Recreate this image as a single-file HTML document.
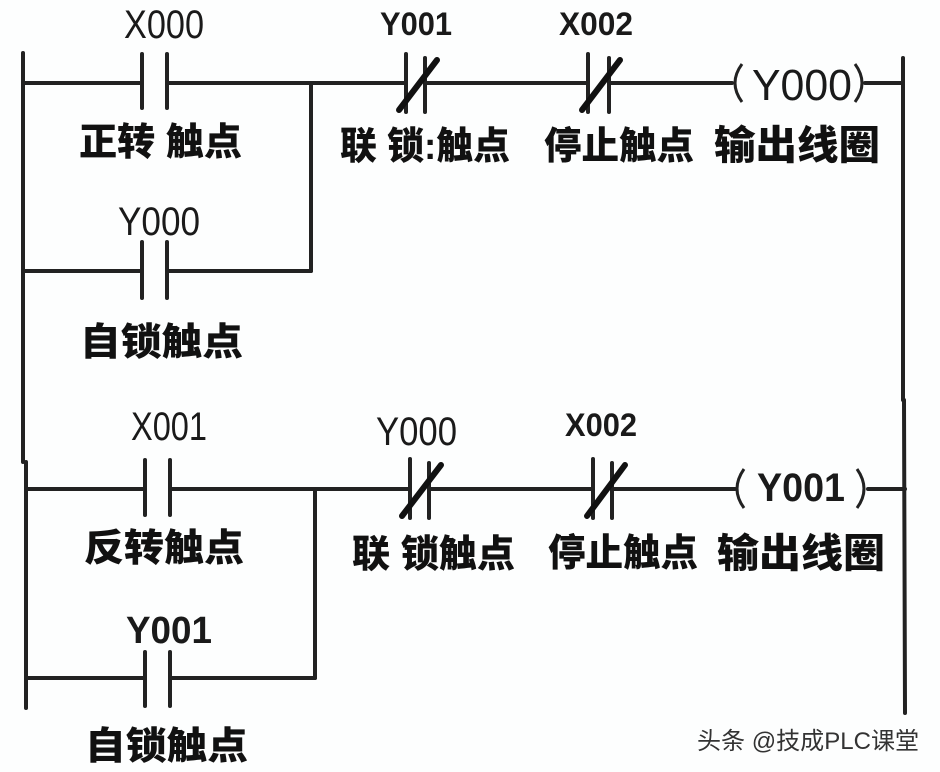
<!DOCTYPE html>
<html><head><meta charset="utf-8"><style>
html,body{margin:0;padding:0;background:#fdfefe;}
svg{display:block}
.lat{font-family:"Liberation Sans",sans-serif;fill:#1a1a1a}
.cjk{font-family:"Liberation Sans","Noto Sans CJK SC",sans-serif;font-weight:900;fill:#111}
</style></head><body>
<svg width="940" height="772" viewBox="0 0 940 772" xmlns="http://www.w3.org/2000/svg">
<g stroke="#222" stroke-width="4" fill="none" stroke-linecap="round">
<line x1="23" y1="53" x2="23" y2="462"/>
<line x1="26" y1="462" x2="26" y2="708"/>
<line x1="903" y1="58" x2="903" y2="400"/>
<line x1="904" y1="400" x2="905" y2="713"/>
<line x1="23" y1="83" x2="142" y2="83"/>
<line x1="142" y1="54" x2="142" y2="108"/>
<line x1="167" y1="54" x2="167" y2="108"/>
<line x1="167" y1="83" x2="406" y2="83"/>
<line x1="311" y1="83" x2="311" y2="271"/>
<line x1="23" y1="271" x2="142" y2="271"/>
<line x1="142" y1="242" x2="142" y2="298"/>
<line x1="167" y1="242" x2="167" y2="298"/>
<line x1="167" y1="271" x2="311" y2="271"/>
<line x1="406" y1="54" x2="406" y2="112"/>
<line x1="425" y1="58" x2="425" y2="112"/>
<line x1="425" y1="83" x2="588" y2="83"/>
<line x1="588" y1="54" x2="588" y2="112"/>
<line x1="609" y1="58" x2="609" y2="112"/>
<line x1="609" y1="83" x2="732" y2="83"/>
<line x1="865" y1="83" x2="903" y2="83"/>
<line x1="26" y1="489" x2="145" y2="489"/>
<line x1="145" y1="460" x2="145" y2="515"/>
<line x1="170" y1="460" x2="170" y2="515"/>
<line x1="170" y1="489" x2="410" y2="489"/>
<line x1="315" y1="489" x2="315" y2="678"/>
<line x1="26" y1="678" x2="145" y2="678"/>
<line x1="145" y1="652" x2="145" y2="706"/>
<line x1="170" y1="652" x2="170" y2="706"/>
<line x1="170" y1="678" x2="315" y2="678"/>
<line x1="410" y1="459" x2="410" y2="518"/>
<line x1="429" y1="463" x2="429" y2="518"/>
<line x1="429" y1="489" x2="593" y2="489"/>
<line x1="593" y1="459" x2="593" y2="518"/>
<line x1="612" y1="463" x2="612" y2="518"/>
<line x1="612" y1="489" x2="735" y2="489"/>
<line x1="868" y1="489" x2="905" y2="489"/>
</g>
<g stroke="#111" stroke-width="6" stroke-linecap="round">
<line x1="399" y1="110" x2="437" y2="60"/>
<line x1="582" y1="110" x2="620" y2="60"/>
<line x1="402" y1="516" x2="441" y2="465"/>
<line x1="587" y1="516" x2="625" y2="465"/>
</g>
<g stroke="#222" stroke-width="3" fill="none">
<path d="M742,64 Q728,83 742,102"/>
<path d="M855,64 Q869,83 855,102"/>
<path d="M744,469 Q730,489 744,508"/>
<path d="M857,469 Q871,489 857,508"/>
</g>
<g lengthAdjust="spacingAndGlyphs">
<text class="lat" x="124" y="38" font-size="40" textLength="80" lengthAdjust="spacingAndGlyphs">X000</text>
<text class="lat" x="380" y="35" font-size="32" font-weight="bold" textLength="72" lengthAdjust="spacingAndGlyphs">Y001</text>
<text class="lat" x="559" y="35" font-size="32" font-weight="bold" textLength="74" lengthAdjust="spacingAndGlyphs">X002</text>
<text class="lat" x="752" y="100" font-size="44" textLength="100" lengthAdjust="spacingAndGlyphs">Y000</text>
<text class="lat" x="118" y="235" font-size="40" textLength="82" lengthAdjust="spacingAndGlyphs">Y000</text>
<text class="lat" x="131" y="440" font-size="40" textLength="76" lengthAdjust="spacingAndGlyphs">X001</text>
<text class="lat" x="376" y="445" font-size="40" textLength="81" lengthAdjust="spacingAndGlyphs">Y000</text>
<text class="lat" x="565" y="436" font-size="32" font-weight="bold" textLength="72" lengthAdjust="spacingAndGlyphs">X002</text>
<text class="lat" x="757" y="501" font-size="40" font-weight="bold" textLength="88" lengthAdjust="spacingAndGlyphs">Y001</text>
<text class="lat" x="126" y="643" font-size="38" font-weight="bold" textLength="86" lengthAdjust="spacingAndGlyphs">Y001</text>
<text class="cjk" x="79" y="155" font-size="38" textLength="163" lengthAdjust="spacingAndGlyphs">正转 触点</text>
<text class="cjk" x="340" y="159" font-size="38" textLength="170" lengthAdjust="spacingAndGlyphs">联 锁:触点</text>
<text class="cjk" x="544" y="159" font-size="38" textLength="150" lengthAdjust="spacingAndGlyphs">停止触点</text>
<text class="cjk" x="714" y="159" font-size="40" textLength="166" lengthAdjust="spacingAndGlyphs">输出线圈</text>
<text class="cjk" x="80" y="355" font-size="38" textLength="163" lengthAdjust="spacingAndGlyphs">自锁触点</text>
<text class="cjk" x="84" y="561" font-size="38" textLength="160" lengthAdjust="spacingAndGlyphs">反转触点</text>
<text class="cjk" x="352" y="567" font-size="38" textLength="163" lengthAdjust="spacingAndGlyphs">联 锁触点</text>
<text class="cjk" x="548" y="566" font-size="38" textLength="150" lengthAdjust="spacingAndGlyphs">停止触点</text>
<text class="cjk" x="717" y="567" font-size="40" textLength="168" lengthAdjust="spacingAndGlyphs">输出线圈</text>
<text class="cjk" x="85" y="759" font-size="38" textLength="163" lengthAdjust="spacingAndGlyphs">自锁触点</text>
<text x="697" y="749" font-size="24" font-family="Liberation Sans,Noto Sans CJK SC,sans-serif" fill="#333" textLength="222" lengthAdjust="spacingAndGlyphs">头条 @技成PLC课堂</text>
</g>
</svg>
</body></html>
